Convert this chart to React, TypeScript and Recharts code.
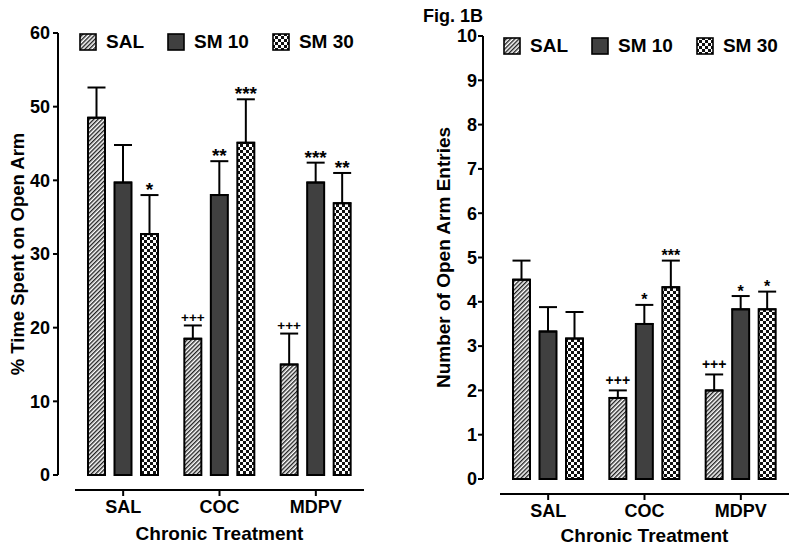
import React from 'react';
import { BarChart, Bar, XAxis, YAxis, ErrorBar, LabelList, Label } from 'recharts';

const FONT = '"Liberation Sans", Arial, Helvetica, sans-serif';

const groups = ['SAL', 'COC', 'MDPV'];
const seriesNames = ['SAL', 'SM 10', 'SM 30'];

// Fig 1A: % time spent on open arm
const timeSal = [48.5, 18.5, 15.0];
const timeSalErr = [4.1, 1.8, 4.2];
const timeSalMarks = ['', '+++', '+++'];
const timeSm10 = [39.7, 38.0, 39.7];
const timeSm10Err = [5.1, 4.6, 2.7];
const timeSm10Marks = ['', '**', '***'];
const timeSm30 = [32.7, 45.1, 36.9];
const timeSm30Err = [5.3, 5.9, 4.1];
const timeSm30Marks = ['*', '***', '**'];
const timeTicks = [0, 10, 20, 30, 40, 50, 60];

// Fig 1B: number of open arm entries
const entSal = [4.5, 1.83, 2.0];
const entSalErr = [0.43, 0.17, 0.36];
const entSalMarks = ['', '+++', '+++'];
const entSm10 = [3.33, 3.5, 3.83];
const entSm10Err = [0.55, 0.43, 0.3];
const entSm10Marks = ['', '*', '*'];
const entSm30 = [3.17, 4.33, 3.83];
const entSm30Err = [0.6, 0.6, 0.4];
const entSm30Marks = ['', '***', '*'];
const entTicks = [0, 1, 2, 3, 4, 5, 6, 7, 8, 9, 10];

const buildRows = (a: number[], ae: number[], b: number[], be: number[], c: number[], ce: number[]) =>
  groups.map((g, i) => ({
    group: g,
    sal: a[i], salErr: [0, ae[i]],
    sm10: b[i], sm10Err: [0, be[i]],
    sm30: c[i], sm30Err: [0, ce[i]],
  }));

const timeRows = buildRows(timeSal, timeSalErr, timeSm10, timeSm10Err, timeSm30, timeSm30Err);
const entRows = buildRows(entSal, entSalErr, entSm10, entSm10Err, entSm30, entSm30Err);

function HatchDef({ id }: { id: string }) {
  return (
    <pattern id={id} width="3" height="3" patternUnits="userSpaceOnUse" patternTransform="rotate(45)">
      <rect width="3" height="3" fill="#fff" />
      <line x1="0.7" y1="0" x2="0.7" y2="3" stroke="#222" strokeWidth="1.4" />
    </pattern>
  );
}

function CheckDef({ id }: { id: string }) {
  return (
    <pattern id={id} width="6" height="6" patternUnits="userSpaceOnUse">
      <rect width="6" height="6" fill="#fff" />
      <rect width="3" height="3" fill="#111" />
      <rect x="3" y="3" width="3" height="3" fill="#111" />
    </pattern>
  );
}

// annotation above the error bar; vertical position from the bar's own geometry
const markLabel = (vals: number[], errs: number[], marks: string[], starSize: number, plusSize: number, starDy: number, plusDy: number) =>
  (props: any) => {
    const { x, y, width, height, index } = props;
    const m = marks[index];
    if (!m) return null;
    const ppu = height / vals[index];
    const top = y - errs[index] * ppu;
    const plus = m.startsWith('+');
    return (
      <text
        x={x + width / 2}
        y={top + (plus ? plusDy : starDy)}
        textAnchor="middle"
        fontSize={plus ? plusSize : starSize}
        fontWeight="bold"
        fontFamily={FONT}
        fill="#000"
      >
        {m}
      </text>
    );
  };

function LegendBox({ id, left, top, gap }: { id: string; left: number; top: number; gap: number }) {
  const fills = [`url(#${id}-lh)`, '#404040', `url(#${id}-lc)`];
  return (
    <div style={{ position: 'absolute', left, top, display: 'flex', alignItems: 'center', gap, fontFamily: FONT, fontWeight: 'bold', fontSize: 19, color: '#000' }}>
      {seriesNames.map((n, i) => (
        <div key={n} style={{ display: 'flex', alignItems: 'center', gap: 9 }}>
          <svg width={18} height={18} style={{ display: 'block' }}>
            <defs>
              {i === 0 && <HatchDef id={`${id}-lh`} />}
              {i === 2 && <CheckDef id={`${id}-lc`} />}
            </defs>
            <rect x={1} y={1} width={16} height={16} fill={fills[i]} stroke="#000" strokeWidth={1.6} />
          </svg>
          <span style={{ lineHeight: '18px' }}>{n}</span>
        </div>
      ))}
    </div>
  );
}

type PanelProps = {
  id: string;
  rows: any[];
  vals: number[][];
  errs: number[][];
  marks: string[][];
  yMax: number;
  yTicks: number[];
  yLabel: string;
  top: number;
  right: number;
  yAxisW: number;
  labelX: number;
  tickMargin: number;
  xAxisH: number;
  xLabelOffset: number;
  starSize: number;
  plusSize: number;
  starDy: number;
  plusDy: number;
  yLabelSize: number;
};

function Panel(p: PanelProps) {
  const axisText = { fill: '#000', fontSize: 18, fontWeight: 700, fontFamily: FONT };
  const keys = ['sal', 'sm10', 'sm30'];
  const fills = [`url(#${p.id}-hatch)`, '#404040', `url(#${p.id}-check)`];
  return (
    <BarChart width={400} height={555} data={p.rows} margin={{ top: p.top, right: p.right, bottom: 0, left: 0 }} barSize={17} barGap={9.5}>
      <defs>
        <HatchDef id={`${p.id}-hatch`} />
        <CheckDef id={`${p.id}-check`} />
      </defs>
      <XAxis dataKey="group" height={15} axisLine={false} tickLine={false} tick={false} />
      <XAxis
        xAxisId="vis"
        dataKey="group"
        height={p.xAxisH}
        interval={0}
        axisLine={{ stroke: '#000', strokeWidth: 2 }}
        tickLine={{ stroke: '#000', strokeWidth: 2 }}
        tickSize={6}
        tickMargin={4}
        tick={axisText}
      >
        <Label value="Chronic Treatment" position="insideBottom" offset={p.xLabelOffset} fill="#000" fontSize={19} fontWeight={700} fontFamily={FONT} />
      </XAxis>
      {/* spacer axis, keeps the y axis line off the plot like the original */}
      <YAxis yAxisId="gap" domain={[0, p.yMax]} width={17} axisLine={false} tickLine={false} tick={false} />
      <YAxis
        yAxisId="vis"
        type="number"
        domain={[0, p.yMax]}
        ticks={p.yTicks}
        interval={0}
        width={p.yAxisW}
        axisLine={{ stroke: '#000', strokeWidth: 2 }}
        tickLine={{ stroke: '#000', strokeWidth: 2 }}
        tickSize={5}
        tickMargin={p.tickMargin}
        tick={axisText}
      >
        <Label
          value={p.yLabel}
          angle={-90}
          position="insideLeft"
          offset={p.labelX}
          fill="#000"
          fontSize={p.yLabelSize}
          fontWeight={700}
          fontFamily={FONT}
          style={{ textAnchor: 'middle' }}
        />
      </YAxis>
      {keys.map((k, i) => (
        <Bar key={k} dataKey={k} yAxisId="vis" name={seriesNames[i]} fill={fills[i]} stroke="#000" strokeWidth={2} isAnimationActive={false}>
          <ErrorBar dataKey={`${k}Err`} width={9} stroke="#000" strokeWidth={2} direction="y" />
          <LabelList
            dataKey={k}
            content={markLabel(p.vals[i], p.errs[i], p.marks[i], p.starSize, p.plusSize, p.starDy, p.plusDy)}
          />
        </Bar>
      ))}
    </BarChart>
  );
}

export default function App() {
  return (
    <div style={{ position: 'absolute', left: 0, top: 0, width: 800, height: 555, background: '#fff' }}>
      <div style={{ position: 'absolute', left: 0, top: 0 }}>
        <Panel
          id="a"
          rows={timeRows}
          vals={[timeSal, timeSm10, timeSm30]}
          errs={[timeSalErr, timeSm10Err, timeSm30Err]}
          marks={[timeSalMarks, timeSm10Marks, timeSm30Marks]}
          yMax={60}
          yTicks={timeTicks}
          yLabel="% Time Spent on Open Arm"
          top={33}
          right={36}
          yAxisW={58}
          labelX={17}
          tickMargin={3}
          xAxisH={65}
          xLabelOffset={15}
          starSize={19}
          plusSize={13.5}
          starDy={1}
          plusDy={-3.5}
          yLabelSize={18.5}
        />
      </div>
      <div style={{ position: 'absolute', left: 400, top: 0 }}>
        <Panel
          id="b"
          rows={entRows}
          vals={[entSal, entSm10, entSm30]}
          errs={[entSalErr, entSm10Err, entSm30Err]}
          marks={[entSalMarks, entSm10Marks, entSm30Marks]}
          yMax={10}
          yTicks={entTicks}
          yLabel="Number of Open Arm Entries"
          top={36}
          right={11}
          yAxisW={83}
          labelX={43}
          tickMargin={1}
          xAxisH={61}
          xLabelOffset={13}
          starSize={16}
          plusSize={14}
          starDy={0.5}
          plusDy={-5.6}
          yLabelSize={19}
        />
      </div>
      <LegendBox id="la" left={79} top={33} gap={23} />
      <LegendBox id="lb" left={503} top={37} gap={23} />
      <div style={{ position: 'absolute', left: 423, top: 6, fontFamily: FONT, fontWeight: 'bold', fontSize: 18, color: '#000' }}>
        Fig. 1B
      </div>
    </div>
  );
}
